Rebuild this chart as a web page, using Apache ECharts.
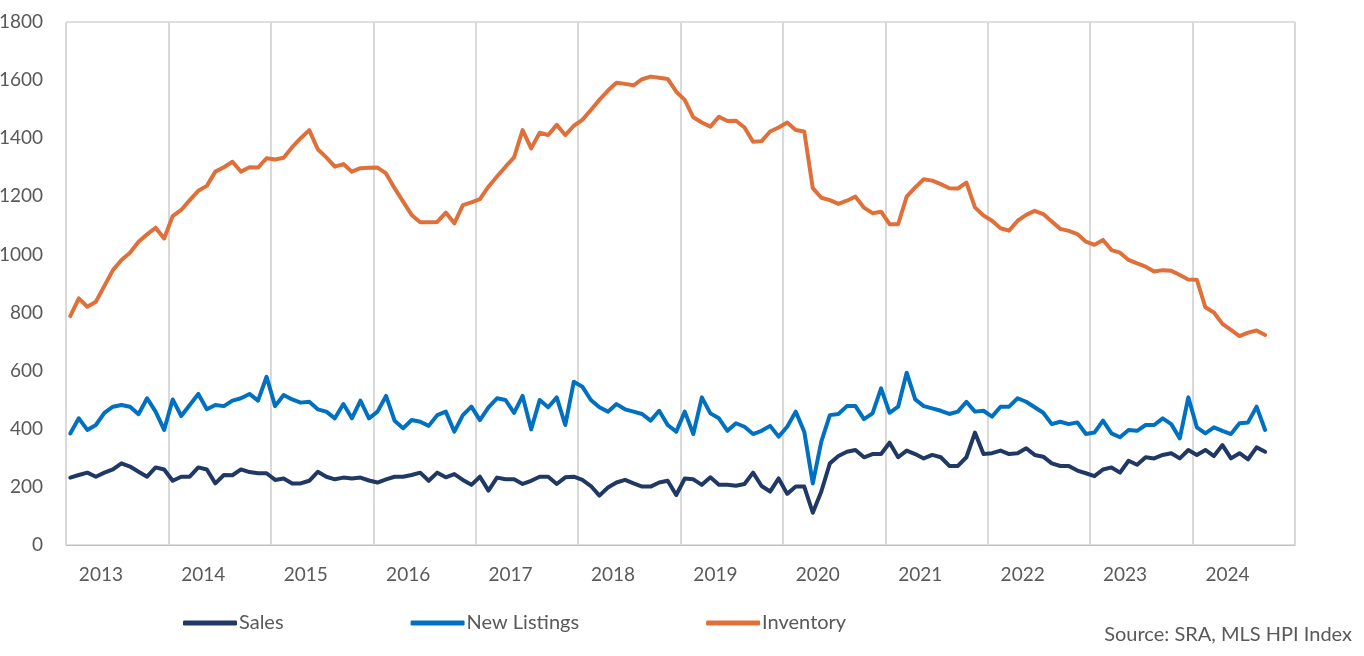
<!DOCTYPE html>
<html>
<head>
<meta charset="utf-8">
<script src="https://cdn.jsdelivr.net/npm/echarts@6/dist/echarts.min.js"></script>
<style>
html,body{margin:0;padding:0;background:#fff;}
#c{width:1364px;height:656px;}
</style>
</head>
<body>
<div id="c"></div>
<script>
// Monthly data, Jan 2013 - Sep 2024
const years = ['2013','2014','2015','2016','2017','2018','2019','2020','2021','2022','2023','2024'];
const monthNames = ['01','02','03','04','05','06','07','08','09','10','11','12'];

const sales = [
232,241,249,235,249,260,281,270,252,235,267,260,
221,235,235,267,260,212,241,240,260,251,247,247,
224,229,212,212,221,252,235,226,232,229,232,222,
215,226,235,235,241,249,221,249,233,244,224,207,
235,187,232,226,226,210,221,235,235,210,233,235,
224,203,170,198,215,224,212,201,201,215,221,172,
229,226,207,233,207,207,204,210,249,203,184,229,
176,201,201,111,184,281,306,321,327,302,313,313,
352,302,325,313,298,310,302,272,272,302,387,313,
316,325,313,316,333,310,304,281,272,272,256,247,
237,260,267,249,290,276,302,298,310,316,298,327,
310,327,306,344,298,316,295,336,321
];

const newListings = [
384,436,396,413,455,476,482,476,450,505,459,396,
501,444,482,520,467,482,478,497,505,520,497,579,
478,516,501,490,493,467,459,436,485,436,497,436,
459,513,428,402,430,424,410,447,459,390,447,476,
430,474,505,499,455,513,398,499,474,508,413,562,
545,499,474,459,485,467,459,451,428,462,413,390,
459,382,508,453,436,393,419,407,382,393,410,373,
407,459,390,212,356,447,451,478,478,433,453,539,
455,476,593,501,478,470,462,451,459,493,459,462,
442,476,476,505,493,474,455,416,424,416,422,382,
387,428,384,371,396,393,413,413,436,416,367,508,
405,384,405,393,382,419,422,476,396
];

const inventory = [
788,849,820,837,892,946,981,1006,1044,1069,1092,1055,
1132,1153,1187,1219,1236,1285,1300,1319,1285,1300,1299,1331,
1327,1333,1369,1400,1428,1362,1334,1302,1311,1285,1297,1298,
1299,1279,1228,1182,1136,1111,1111,1112,1144,1107,1170,1179,
1190,1233,1268,1302,1334,1428,1365,1419,1411,1446,1411,1443,
1463,1497,1532,1564,1591,1587,1582,1603,1612,1608,1604,1560,
1532,1472,1454,1440,1474,1459,1460,1437,1388,1390,1423,1437,
1454,1428,1423,1228,1195,1187,1174,1185,1199,1161,1142,1147,
1104,1104,1199,1231,1259,1254,1242,1228,1227,1247,1162,1134,
1116,1090,1082,1116,1136,1150,1139,1113,1088,1081,1070,1044,
1033,1050,1015,1006,981,969,958,941,946,944,929,914,
913,818,800,761,740,719,731,738,723
];

const yTicks = {min:0, max:1800, interval:200};

const categories = [];
years.forEach(y => monthNames.forEach(m => categories.push(y + '-' + m)));

const FONT = 'Lato';
const TXT = '#595959';

const chart = echarts.init(document.getElementById('c'), null, {renderer:'canvas'});
chart.setOption({
  animation:false,
  backgroundColor:'#ffffff',
  textStyle:{fontFamily:FONT},
  grid:{left:66, right:69, top:22, bottom:111, show:true, borderColor:'#BFBFBF', borderWidth:1,
        containLabel:false, outerBoundsMode:'none'},
  legend:{
    data:['Sales','New Listings','Inventory'],
    left:178, top:608,
    icon:'roundRect', itemWidth:54, itemHeight:5, itemGap:127,
    textStyle:{fontFamily:FONT, fontSize:20, color:TXT, padding:[0,0,0,-3]}
  },
  xAxis:{
    type:'category',
    data:categories,
    boundaryGap:true,
    axisLine:{show:true, lineStyle:{color:'#BFBFBF', width:1}},
    axisTick:{show:false},
    splitLine:{show:true, interval:(i)=> i % 12 === 0, lineStyle:{color:'#D9D9D9', width:2}},
    axisLabel:{
      interval:(i)=> i % 12 === 4,
      formatter:(v)=> v.slice(0,4),
      fontFamily:FONT, fontSize:19, color:TXT, margin:20,
      padding:[0,7,0,0]
    }
  },
  yAxis:{
    type:'value',
    min:yTicks.min, max:yTicks.max, interval:yTicks.interval,
    axisLine:{show:false}, axisTick:{show:false},
    splitLine:{show:false},
    axisLabel:{fontFamily:FONT, fontSize:19, color:TXT, margin:23, formatter:(v)=> String(v)}
  },
  series:[
    {name:'Sales', type:'line', data:sales, symbol:'none', color:'#203864',
     lineStyle:{width:4, color:'#203864', cap:'round', join:'round'}},
    {name:'New Listings', type:'line', data:newListings, symbol:'none', color:'#0070C0',
     lineStyle:{width:4, color:'#0070C0', cap:'round', join:'round'}},
    {name:'Inventory', type:'line', data:inventory, symbol:'none', color:'#E0703A',
     lineStyle:{width:4, color:'#E0703A', cap:'round', join:'round'}}
  ],
  graphic:[{
    type:'text', right:12, top:625,
    style:{text:'Source: SRA, MLS HPI Index', fontFamily:FONT, fontSize:20, fill:TXT}
  }]
});
</script>
</body>
</html>
